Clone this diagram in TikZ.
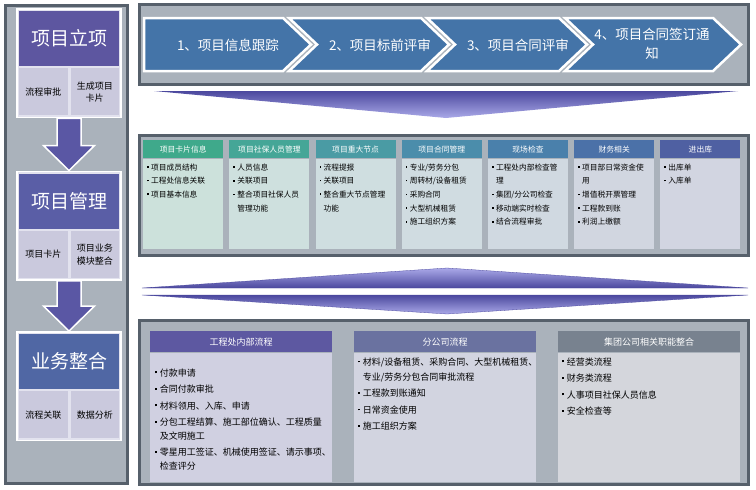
\documentclass[tikz,border=0pt]{standalone}
\usepackage{fontspec}
\setmainfont{Noto Sans CJK SC}
\usetikzlibrary{positioning, fit, backgrounds, calc}

\definecolor{panelFill}{HTML}{AAB2BB}
\definecolor{panelLine}{HTML}{56606B}
\definecolor{titleA}{HTML}{5D56A0}
\definecolor{titleB}{HTML}{5A5EA6}
\definecolor{titleC}{HTML}{5067A4}
\definecolor{cellFill}{HTML}{CAC9DD}
\definecolor{gapFill}{HTML}{E2E2EE}
\definecolor{arrowFill}{HTML}{5A57A4}
\definecolor{arrowDark}{HTML}{4B489E}
\definecolor{arrowLight}{HTML}{AAA9E8}
\definecolor{chevFill}{HTML}{4474A8}
\definecolor{headA}{HTML}{3FA98B}
\definecolor{headB}{HTML}{45A697}
\definecolor{headC}{HTML}{4A9BA4}
\definecolor{headD}{HTML}{4B8DAB}
\definecolor{headE}{HTML}{4A80AB}
\definecolor{headF}{HTML}{4B71A8}
\definecolor{headG}{HTML}{4F60A2}
\definecolor{bodyA}{HTML}{CCE1DB}
\definecolor{bodyB}{HTML}{CEE0DE}
\definecolor{bodyC}{HTML}{CFDEE0}
\definecolor{bodyD}{HTML}{D0DCE1}
\definecolor{bodyE}{HTML}{D0D9E1}
\definecolor{bodyF}{HTML}{D1D6E0}
\definecolor{bodyG}{HTML}{D2D5E1}
\definecolor{flowHeadA}{HTML}{5D58A1}
\definecolor{flowHeadB}{HTML}{6A72A0}
\definecolor{flowHeadC}{HTML}{78828F}
\definecolor{flowBodyA}{HTML}{D0D0E1}
\definecolor{flowBodyB}{HTML}{D2D4E0}
\definecolor{flowBodyC}{HTML}{D4D6DC}

\newcommand{\bul}{\raisebox{0.3em}{\rule{0.22em}{0.22em}}\hspace{0.3em}}
\newcommand{\cnt}{\hspace*{0.52em}}

\begin{document}
\begin{tikzpicture}[
        x=1pt, y=-1pt,
        panelFrame/.style={
            draw=panelLine,
            fill=panelFill,
            line width=3pt
        },
        groupTitle/.style={
            minimum width=100pt,
            minimum height=55pt,
            inner sep=0pt,
            text=white,
            font=\fontsize{19}{22}\selectfont
        },
        groupCell/.style={
            fill=cellFill,
            minimum width=48.5pt,
            minimum height=47pt,
            inner sep=0pt,
            text width=44pt,
            align=center,
            font=\fontsize{9}{12.5}\selectfont
        },
        groupFrame/.style={
            draw=white,
            fill=gapFill,
            line width=1.5pt,
            inner sep=2pt
        },
        blockArrow/.style={
            draw=white,
            fill=arrowFill,
            line width=1.5pt,
            line join=miter
        },
        chevron/.style={
            draw=white,
            fill=chevFill,
            line width=2.5pt,
            line join=miter
        },
        chevronLabel/.style={
            text=white,
            align=center,
            inner sep=0pt,
            font=\fontsize{13.5}{19}\selectfont
        },
        cardHead/.style={
            anchor=north west,
            minimum width=80pt,
            minimum height=18pt,
            inner sep=0pt,
            text=white,
            font=\fontsize{7.8}{9}\selectfont
        },
        cardBody/.style={
            minimum width=80pt,
            minimum height=90pt,
            inner sep=0pt
        },
        cardText/.style={
            inner sep=0pt,
            align=left,
            font=\fontsize{7.7}{13.7}\selectfont
        },
        flowHead/.style={
            anchor=north west,
            minimum width=182pt,
            minimum height=21pt,
            inner sep=0pt,
            text=white,
            font=\fontsize{9}{11}\selectfont
        },
        flowBody/.style={
            minimum width=182pt,
            minimum height=129pt,
            inner sep=0pt
        },
        flowText/.style={
            inner sep=0pt,
            align=left,
            font=\fontsize{9}{13.5}\selectfont
        }
    ]

        \useasboundingbox (0,0) rectangle (756,490);

        % Left column
        \node[groupTitle, fill=titleA] (startTitle) at (69,38.5) {项目立项};
        \node[groupCell, below=2pt of startTitle.south west, anchor=north west] (startCellL) {流程审批};
        \node[groupCell, below=2pt of startTitle.south east, anchor=north east] (startCellR) {生成项目\\卡片};

        \node[groupTitle, fill=titleB] (mgmtTitle) at (69,201) {项目管理};
        \node[groupCell, below=2pt of mgmtTitle.south west, anchor=north west] (mgmtCellL) {项目卡片};
        \node[groupCell, below=2pt of mgmtTitle.south east, anchor=north east] (mgmtCellR) {项目业务\\模块整合};

        \node[groupTitle, fill=titleC] (integTitle) at (69,361.5) {业务整合};
        \node[groupCell, below=2pt of integTitle.south west, anchor=north west] (integCellL) {流程关联};
        \node[groupCell, below=2pt of integTitle.south east, anchor=north east] (integCellR) {数据分析};

        \begin{scope}[on background layer]
            \draw[panelFrame] (5,5) rectangle (127,483);
            \node[groupFrame, fit=(startTitle)(startCellL)(startCellR)] (startGroup) {};
            \node[groupFrame, fit=(mgmtTitle)(mgmtCellL)(mgmtCellR)] (mgmtGroup) {};
            \node[groupFrame, fit=(integTitle)(integCellL)(integCellR)] (integGroup) {};
        \end{scope}

        % Arrows between the groups
        \draw[blockArrow]
            ($(startGroup.south)+(-12pt,0pt)$) -- ($(startGroup.south)+(12pt,0pt)$)
            -- ($(mgmtGroup.north)+(12pt,25pt)$) -- ($(mgmtGroup.north)+(25.5pt,25pt)$)
            -- (mgmtGroup.north)
            -- ($(mgmtGroup.north)+(-25.5pt,25pt)$) -- ($(mgmtGroup.north)+(-12pt,25pt)$) -- cycle;
        \draw[blockArrow]
            ($(mgmtGroup.south)+(-12pt,0pt)$) -- ($(mgmtGroup.south)+(12pt,0pt)$)
            -- ($(integGroup.north)+(12pt,25pt)$) -- ($(integGroup.north)+(25.5pt,25pt)$)
            -- (integGroup.north)
            -- ($(integGroup.north)+(-25.5pt,25pt)$) -- ($(integGroup.north)+(-12pt,25pt)$) -- cycle;

        % Stage panel
        \draw[panelFrame] (139,4.5) rectangle (748,84.5);
        \draw[chevron] (144,18) -- (283,18) -- (311,44.5) -- (283,71) -- (144,71) -- cycle;
        \draw[chevron] (289,18) -- (421,18) -- (449,44.5) -- (421,71) -- (289,71) -- (317,44.5) -- cycle;
        \draw[chevron] (427,18) -- (559,18) -- (587,44.5) -- (559,71) -- (427,71) -- (455,44.5) -- cycle;
        \draw[chevron] (565,18) -- (713,18) -- (741,44.5) -- (713,71) -- (565,71) -- (593,44.5) -- cycle;

        \node[chevronLabel] (stageTrack) at (228,45) {1、项目信息跟踪};
        \node[chevronLabel] (stageBid) at (380,45) {2、项目标前评审};
        \node[chevronLabel] (stageReview) at (518,45) {3、项目合同评审};
        \node[chevronLabel] (stageSign) at (652,44) {4、项目合同签订通\\知};

        % Arrow under the stages
        \shade[top color=arrowDark, bottom color=arrowLight]
            (154,91) -- (738,91) -- (446,118) -- cycle;

        % Module panel
        \draw[panelFrame] (139,135) rectangle (748,255.5);

        \node[cardHead, fill=headA] (cardHeadA) at (143,140) {项目卡片信息};
        \node[cardBody, fill=bodyA, below=0pt of cardHeadA] (cardBodyA) {};
        \node[cardText, below right=5pt and 4pt of cardBodyA.north west] (cardTextA) {
            \bul 项目成员结构\\
            \bul 工程处信息关联\\
            \bul 项目基本信息
        };

        \node[cardHead, fill=headB] (cardHeadB) at (229.2,140) {项目社保人员管理};
        \node[cardBody, fill=bodyB, below=0pt of cardHeadB] (cardBodyB) {};
        \node[cardText, below right=5pt and 4pt of cardBodyB.north west] (cardTextB) {
            \bul 人员信息\\
            \bul 关联项目\\
            \bul 整合项目社保人员\\
            \cnt 管理功能
        };

        \node[cardHead, fill=headC] (cardHeadC) at (315.4,140) {项目重大节点};
        \node[cardBody, fill=bodyC, below=0pt of cardHeadC] (cardBodyC) {};
        \node[cardText, below right=5pt and 4pt of cardBodyC.north west] (cardTextC) {
            \bul 流程提报\\
            \bul 关联项目\\
            \bul 整合重大节点管理\\
            \cnt 功能
        };

        \node[cardHead, fill=headD] (cardHeadD) at (401.6,140) {项目合同管理};
        \node[cardBody, fill=bodyD, below=0pt of cardHeadD] (cardBodyD) {};
        \node[cardText, below right=5pt and 4pt of cardBodyD.north west] (cardTextD) {
            \bul 专业/劳务分包\\
            \bul 周转材/设备租赁\\
            \bul 采购合同\\
            \bul 大型机械租赁\\
            \bul 施工组织方案
        };

        \node[cardHead, fill=headE] (cardHeadE) at (487.8,140) {现场检查};
        \node[cardBody, fill=bodyE, below=0pt of cardHeadE] (cardBodyE) {};
        \node[cardText, below right=5pt and 4pt of cardBodyE.north west] (cardTextE) {
            \bul 工程处内部检查管\\
            \cnt 理\\
            \bul 集团/分公司检查\\
            \bul 移动端实时检查\\
            \bul 结合流程审批
        };

        \node[cardHead, fill=headF] (cardHeadF) at (574,140) {财务相关};
        \node[cardBody, fill=bodyF, below=0pt of cardHeadF] (cardBodyF) {};
        \node[cardText, below right=5pt and 4pt of cardBodyF.north west] (cardTextF) {
            \bul 项目部日常资金使\\
            \cnt 用\\
            \bul 增值税开票管理\\
            \bul 工程款到账\\
            \bul 利润上缴额
        };

        \node[cardHead, fill=headG] (cardHeadG) at (660.2,140) {进出库};
        \node[cardBody, fill=bodyG, below=0pt of cardHeadG] (cardBodyG) {};
        \node[cardText, below right=5pt and 4pt of cardBodyG.north west] (cardTextG) {
            \bul 出库单\\
            \bul 入库单
        };

        % Double arrow between the panels
        \shade[top color=arrowLight, bottom color=arrowDark, draw=arrowDark, line width=0.3pt]
            (142,288) -- (447,268) -- (748,288) -- cycle;
        \shade[top color=arrowDark, bottom color=arrowLight, draw=arrowDark, line width=0.3pt]
            (142,295) -- (748,295) -- (447,314) -- cycle;

        % Process panel
        \draw[panelFrame] (139,320.5) rectangle (748,484.5);

        \node[flowHead, fill=flowHeadA] (flowHeadA) at (150,331) {工程处内部流程};
        \node[flowBody, fill=flowBodyA, below=0pt of flowHeadA] (flowBodyA) {};
        \node[flowText, below right=16pt and 5pt of flowBodyA.north west] (flowTextA) {
            \bul 付款申请\\[3pt]
            \bul 合同付款审批\\[3pt]
            \bul 材料领用、入库、申请\\[3pt]
            \bul 分包工程结算、施工部位确认、工程质量\\
            \cnt 及文明施工\\[3pt]
            \bul 零星用工签证、机械使用签证、请示事项、\\
            \cnt 检查评分
        };

        \node[flowHead, fill=flowHeadB] (flowHeadB) at (354,331) {分公司流程};
        \node[flowBody, fill=flowBodyB, below=0pt of flowHeadB] (flowBodyB) {};
        \node[flowText, below right=5pt and 4pt of flowBodyB.north west] (flowTextB) {
            \bul 材料/设备租赁、采购合同、大型机械租赁、\\[1.5pt]
            \cnt 专业/劳务分包合同审批流程\\[3pt]
            \bul 工程款到账通知\\[3pt]
            \bul 日常资金使用\\[3pt]
            \bul 施工组织方案
        };

        \node[flowHead, fill=flowHeadC] (flowHeadC) at (558,331) {集团公司相关职能整合};
        \node[flowBody, fill=flowBodyC, below=0pt of flowHeadC] (flowBodyC) {};
        \node[flowText, below right=5pt and 4pt of flowBodyC.north west] (flowTextC) {
            \bul 经营类流程\\[3pt]
            \bul 财务类流程\\[3pt]
            \bul 人事项目社保人员信息\\[3pt]
            \bul 安全检查等
        };

    \end{tikzpicture}
\end{document}
